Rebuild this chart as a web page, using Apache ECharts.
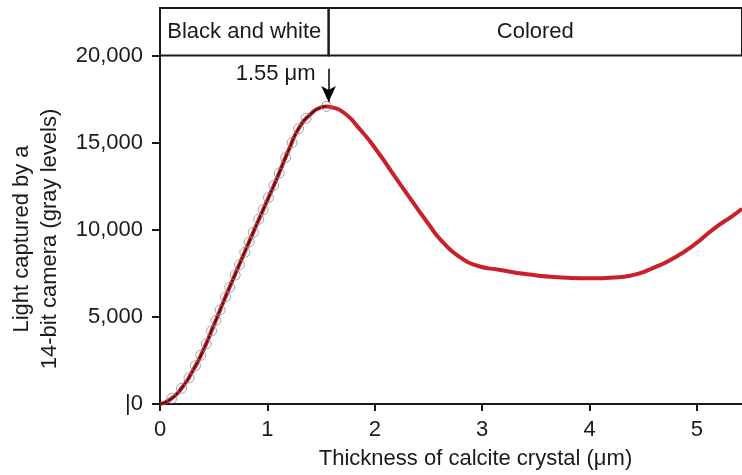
<!DOCTYPE html>
<html>
<head>
<meta charset="utf-8">
<script src="https://cdn.jsdelivr.net/npm/echarts@6/dist/echarts.min.js"></script>
<style>html,body{margin:0;padding:0;background:#fff;}#c{width:742px;height:475px;}</style>
</head>
<body>
<div id="c"></div>
<script>
// Fitted model curve (thickness in µm, gray levels)
const curveX = [0, 0.1, 0.2, 0.3, 0.4, 0.5, 0.6, 0.7, 0.8, 0.9, 1.0, 1.1, 1.2, 1.3, 1.4, 1.5, 1.55, 1.6, 1.71, 1.86, 2.02, 2.17, 2.33, 2.49, 2.64, 2.8, 2.95, 3.17, 3.42, 3.7, 3.98, 4.23, 4.41, 4.6, 4.78, 4.97, 5.16, 5.34, 5.42];
const curveY = [0, 280, 900, 1850, 3050, 4500, 6000, 7450, 8880, 10300, 11700, 13120, 14600, 15900, 16620, 17020, 17080, 17030, 16730, 15780, 14540, 13210, 11800, 10420, 9250, 8400, 7950, 7690, 7450, 7280, 7220, 7260, 7410, 7830, 8360, 9120, 10070, 10830, 11210];
// Measured points (black-and-white range)
const measX = [0.11, 0.2, 0.27, 0.33, 0.38, 0.43, 0.48, 0.52, 0.56, 0.61, 0.65, 0.7, 0.74, 0.79, 0.83, 0.87, 0.92, 0.96, 1.01, 1.06, 1.11, 1.17, 1.23, 1.29, 1.36, 1.55];
const measY = [330, 900, 1500, 2200, 2800, 3450, 4200, 4800, 5400, 6150, 6700, 7400, 8000, 8700, 9300, 9850, 10600, 11150, 11850, 12550, 13250, 14150, 15000, 15800, 16400, 17080];
// Ticks and labels
const yTicks = [0, 5000, 10000, 15000, 20000];
const bandTop = 22730;
const bandSplit = 1.57;
const xMax = 5.42;
const bands = ['Black and white', 'Colored'];
const peakX = 1.55;
const peakLabel = '1.55 \u03bcm';

const FONT = 'Liberation Sans, Arial, Helvetica, sans-serif';
const INK = '#1a1a1a';
const FS = 22;

const curve = curveX.map((x, i) => [x, curveY[i]]);
const meas = measX.map((x, i) => [x, measY[i]]);
const bw = curve.filter(p => p[0] <= peakX);

const chart = echarts.init(document.getElementById('c'), null, {renderer: 'canvas'});
chart.setOption({
  animation: false,
  backgroundColor: '#fff',
  textStyle: {fontFamily: FONT},
  grid: {left: 160, right: 0, top: 8, bottom: 68, containLabel: false},
  xAxis: {
    type: 'value', min: 0, max: xMax, interval: 1,
    name: 'Thickness of calcite crystal (\u03bcm)', nameLocation: 'middle', nameGap: 44,
    nameTextStyle: {fontSize: FS, color: INK, fontFamily: FONT, padding: [0, 0, 0, 49]},
    axisLine: {lineStyle: {color: INK, width: 2}},
    axisTick: {show: true, length: 7, lineStyle: {color: INK, width: 2}},
    axisLabel: {fontSize: FS, color: INK, margin: 15, fontFamily: FONT, showMaxLabel: false},
    splitLine: {show: false}
  },
  yAxis: {
    type: 'value', min: 0, max: bandTop, interval: 5000,
    name: 'Light captured by a\n14-bit camera (gray levels)', nameLocation: 'middle', nameRotate: 90, nameGap: 96,
    nameTextStyle: {fontSize: FS, color: INK, lineHeight: 28, fontFamily: FONT, padding: [0, 66, 0, 0]},
    axisLine: {show: true, lineStyle: {color: INK, width: 2}},
    axisTick: {show: true, length: 8, lineStyle: {color: INK, width: 2}, customValues: yTicks},
    axisLabel: {fontSize: FS, color: INK, margin: 17, fontFamily: FONT, customValues: yTicks,
      formatter: v => v === 0 ? '|0' : v.toLocaleString('en-US')},
    splitLine: {show: false}
  },
  series: [
    {
      type: 'line', data: curve, smooth: 0.6, showSymbol: false, z: 2,
      lineStyle: {color: '#c9202a', width: 4},
      markArea: {
        silent: true,
        itemStyle: {color: 'rgba(255,255,255,0)', borderColor: INK, borderWidth: 2},
        label: {show: true, position: 'inside', fontSize: FS, color: INK, fontFamily: FONT},
        data: [
          [{name: bands[0], coord: [0, 20000]}, {coord: [bandSplit, bandTop]}],
          [{name: bands[1], coord: [bandSplit, 20000]}, {coord: [xMax + 0.05, bandTop]}]
        ]
      }
    },
    {
      type: 'line', data: bw, smooth: 0.6, showSymbol: false, z: 3,
      lineStyle: {color: '#3a0a0a', width: 1.3}
    },
    {
      type: 'scatter', data: meas, symbol: 'circle', symbolSize: 10, z: 4,
      itemStyle: {color: 'rgba(255,255,255,0)', borderColor: '#8c8c8c', borderWidth: 1},
      markLine: {
        silent: true, symbol: ['none', 'arrow'], symbolSize: [11, 16],
        lineStyle: {color: '#000', width: 1.5, type: 'solid'},
        label: {show: false},
        data: [[{coord: [bandSplit, 19250]}, {coord: [bandSplit, 17330]}]]
      },
      markPoint: {
        silent: true, symbol: 'circle', symbolSize: 0,
        label: {show: true, position: 'left', distance: 13, formatter: peakLabel, fontSize: FS, color: INK, fontFamily: FONT},
        data: [{coord: [bandSplit, 18970]}]
      }
    }
  ]
});
</script>
</body>
</html>
